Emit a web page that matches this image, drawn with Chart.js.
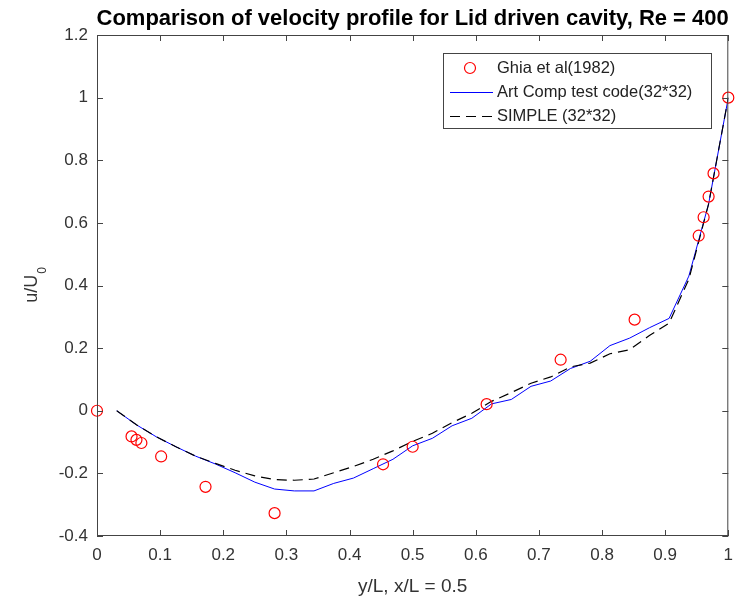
<!DOCTYPE html>
<html>
<head>
<meta charset="utf-8">
<title>Lid driven cavity, Re = 400</title>
<script src="https://cdn.jsdelivr.net/npm/chart.js@4.4.0/dist/chart.umd.min.js"></script>
<style>
  html, body { margin: 0; padding: 0; background: #fff; }
  canvas { display: block; }
</style>
</head>
<body>
<canvas id="chart" width="735" height="596"></canvas>
<script>
// ─── Data ─────────────────────────────────────────────────────────────────────

// Ghia et al (1982), u along the vertical centreline
const ghiaY = [0, 0.0547, 0.0625, 0.0703, 0.1016, 0.1719, 0.2813, 0.4531, 0.5,
  0.6172, 0.7344, 0.8516, 0.9531, 0.9609, 0.9688, 0.9766, 1.0];
const ghiaU = [0, -0.082, -0.093, -0.103, -0.146, -0.243, -0.327, -0.171, -0.115,
  0.021, 0.163, 0.291, 0.559, 0.618, 0.684, 0.758, 1.0];

// 32*32 grid positions
const gridY = [0.03125, 0.0625, 0.09375, 0.125, 0.15625, 0.1875, 0.21875, 0.25,
  0.28125, 0.3125, 0.34375, 0.375, 0.40625, 0.4375, 0.46875, 0.5,
  0.53125, 0.5625, 0.59375, 0.625, 0.65625, 0.6875, 0.71875, 0.75,
  0.78125, 0.8125, 0.84375, 0.875, 0.90625, 0.9375, 0.96875, 1.0];

const artCompU = [0, -0.045, -0.083, -0.115, -0.145, -0.170, -0.198, -0.228,
  -0.250, -0.256, -0.256, -0.232, -0.215, -0.185, -0.155, -0.112,
  -0.088, -0.048, -0.024, 0.022, 0.036, 0.078, 0.095, 0.135,
  0.158, 0.208, 0.232, 0.265, 0.295, 0.430, 0.660, 1.0];

const simpleU = [0, -0.045, -0.083, -0.115, -0.145, -0.168, -0.190, -0.208,
  -0.220, -0.222, -0.218, -0.198, -0.178, -0.155, -0.128, -0.098,
  -0.072, -0.038, -0.008, 0.030, 0.058, 0.088, 0.108, 0.140,
  0.152, 0.182, 0.195, 0.240, 0.280, 0.420, 0.660, 1.0];

const xTicks = [0, 0.1, 0.2, 0.3, 0.4, 0.5, 0.6, 0.7, 0.8, 0.9, 1];
const xTickLabels = ['0', '0.1', '0.2', '0.3', '0.4', '0.5', '0.6', '0.7', '0.8', '0.9', '1'];
const yTicks = [-0.4, -0.2, 0, 0.2, 0.4, 0.6, 0.8, 1, 1.2];
const yTickLabels = ['-0.4', '-0.2', '0', '0.2', '0.4', '0.6', '0.8', '1', '1.2'];

const TITLE = 'Comparison of velocity profile for Lid driven cavity, Re = 400';
const X_TITLE = 'y/L, x/L = 0.5';

// ─── Helpers ──────────────────────────────────────────────────────────────────

const FONT = "'Liberation Sans', Arial, Helvetica, sans-serif";
const AXIS_COLOR = '#444';
const TEXT_COLOR = '#333';

const toPoints = (xs, ys) => xs.map((x, i) => ({ x, y: ys[i] }));

// MATLAB-like decorations: box, inward ticks, titles, legend
const matlabPlugin = {
  id: 'matlab',
  afterDraw(chart) {
    const { ctx, chartArea: a, scales } = chart;
    const tick = 6;

    ctx.save();
    ctx.strokeStyle = AXIS_COLOR;
    ctx.lineWidth = 1;
    ctx.strokeRect(a.left + 0.5, a.top + 0.5, a.right - a.left - 1, a.bottom - a.top - 1);

    ctx.beginPath();
    scales.x.ticks.forEach(t => {
      const px = Math.round(scales.x.getPixelForValue(t.value)) + 0.5;
      ctx.moveTo(px, a.bottom); ctx.lineTo(px, a.bottom - tick);
      ctx.moveTo(px, a.top); ctx.lineTo(px, a.top + tick);
    });
    scales.y.ticks.forEach(t => {
      const py = Math.round(scales.y.getPixelForValue(t.value)) + 0.5;
      ctx.moveTo(a.left, py); ctx.lineTo(a.left + tick, py);
      ctx.moveTo(a.right, py); ctx.lineTo(a.right - tick, py);
    });
    ctx.stroke();

    // Title
    ctx.fillStyle = '#000';
    ctx.font = `bold 22px ${FONT}`;
    ctx.textAlign = 'center';
    ctx.textBaseline = 'alphabetic';
    ctx.fillText(TITLE, (a.left + a.right) / 2, 25);

    // x axis title
    ctx.fillStyle = TEXT_COLOR;
    ctx.font = `19px ${FONT}`;
    ctx.fillText(X_TITLE, (a.left + a.right) / 2, 592);

    // y axis title, u/U with subscript 0
    ctx.save();
    ctx.translate(37, (a.top + a.bottom) / 2);
    ctx.rotate(-Math.PI / 2);
    ctx.font = `18px ${FONT}`;
    const wMain = ctx.measureText('u/U').width;
    ctx.font = `12px ${FONT}`;
    const wSub = ctx.measureText('0').width;
    const x0 = -(wMain + wSub) / 2;
    ctx.textAlign = 'left';
    ctx.font = `18px ${FONT}`;
    ctx.fillText('u/U', x0, 0);
    ctx.font = `12px ${FONT}`;
    ctx.fillText('0', x0 + wMain + 1, 9);
    ctx.restore();

    // Legend
    const box = { left: 443, top: 53, right: 711, bottom: 128 };
    ctx.fillStyle = '#fff';
    ctx.fillRect(box.left, box.top, box.right - box.left, box.bottom - box.top);
    ctx.strokeStyle = AXIS_COLOR;
    ctx.strokeRect(box.left + 0.5, box.top + 0.5, box.right - box.left, box.bottom - box.top);

    const rows = [68, 92, 116];
    ctx.font = `16.5px ${FONT}`;
    ctx.textAlign = 'left';
    ctx.textBaseline = 'middle';
    chart.data.datasets.forEach((ds, i) => {
      const y = rows[i];
      if (ds.showLine === false) {
        ctx.beginPath();
        ctx.arc(470, y, ds.pointRadius, 0, Math.PI * 2);
        ctx.strokeStyle = ds.pointBorderColor;
        ctx.lineWidth = ds.pointBorderWidth;
        ctx.stroke();
      } else {
        ctx.beginPath();
        ctx.setLineDash(ds.borderDash || []);
        ctx.strokeStyle = ds.borderColor;
        ctx.lineWidth = ds.borderWidth;
        ctx.moveTo(450, y + 0.5);
        ctx.lineTo(493, y + 0.5);
        ctx.stroke();
        ctx.setLineDash([]);
      }
      ctx.fillStyle = '#222';
      ctx.fillText(ds.label, 497, y);
    });
    ctx.restore();
  },
};

// ─── Chart ────────────────────────────────────────────────────────────────────

Chart.defaults.font.family = FONT;
Chart.defaults.color = TEXT_COLOR;

new Chart(document.getElementById('chart'), {
  type: 'scatter',
  data: {
    datasets: [
      {
        label: 'Ghia et al(1982)',
        data: toPoints(ghiaY, ghiaU),
        showLine: false,
        pointStyle: 'circle',
        pointRadius: 5.5,
        pointBorderWidth: 1.2,
        pointBorderColor: '#ff0000',
        pointBackgroundColor: 'rgba(0,0,0,0)',
        clip: false,
        order: 0,
      },
      {
        label: 'Art Comp test code(32*32)',
        data: toPoints(gridY, artCompU),
        showLine: true,
        borderColor: '#0000ff',
        borderWidth: 1,
        pointRadius: 0,
        tension: 0,
        order: 2,
      },
      {
        label: 'SIMPLE (32*32)',
        data: toPoints(gridY, simpleU),
        showLine: true,
        borderColor: '#000',
        borderWidth: 1.2,
        borderDash: [10, 6],
        pointRadius: 0,
        tension: 0,
        order: 1,
      },
    ],
  },
  options: {
    responsive: false,
    animation: false,
    devicePixelRatio: 1,
    layout: { padding: { top: 35, right: 4, left: 0, bottom: 0 } },
    plugins: {
      legend: { display: false },
      title: { display: false },
      tooltip: { enabled: false },
    },
    scales: {
      x: {
        type: 'linear',
        min: 0,
        max: 1,
        grid: { display: false, drawTicks: false },
        border: { display: false },
        afterBuildTicks: scale => { scale.ticks = xTicks.map(v => ({ value: v })); },
        afterFit: scale => {
          scale.height = 60;
          scale.paddingLeft = 0;
          scale.paddingRight = 0;
        },
        ticks: {
          padding: 9,
          maxRotation: 0,
          autoSkip: false,
          font: { size: 17 },
          color: TEXT_COLOR,
          callback: (v, i) => xTickLabels[i],
        },
      },
      y: {
        type: 'linear',
        min: -0.4,
        max: 1.2,
        grid: { display: false, drawTicks: false },
        border: { display: false },
        afterBuildTicks: scale => { scale.ticks = yTicks.map(v => ({ value: v })); },
        afterFit: scale => {
          scale.width = 97;
          scale.paddingTop = 0;
          scale.paddingBottom = 0;
        },
        ticks: {
          padding: 9,
          autoSkip: false,
          font: { size: 17 },
          color: TEXT_COLOR,
          callback: (v, i) => yTickLabels[i],
        },
      },
    },
  },
  plugins: [matlabPlugin],
});
</script>
</body>
</html>
